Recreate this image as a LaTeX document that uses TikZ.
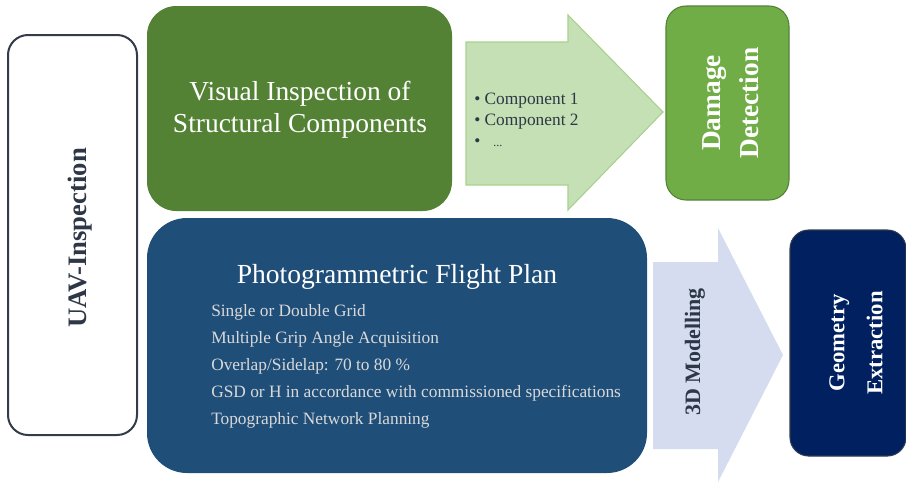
\documentclass[tikz,border=0pt]{standalone}
\usepackage{fontspec}
\setmainfont{Liberation Serif}
\definecolor{uavline}{RGB}{50,60,75}
\definecolor{gdark}{RGB}{84,130,53}
\definecolor{gmid}{RGB}{112,173,71}
\definecolor{glight}{RGB}{197,224,180}
\definecolor{glightline}{RGB}{169,209,142}
\definecolor{bdark}{RGB}{31,78,121}
\definecolor{navy}{RGB}{0,32,96}
\definecolor{blight}{RGB}{214,220,240}
\definecolor{txtdark}{RGB}{45,55,70}
\definecolor{txtlight}{RGB}{217,217,217}
\begin{document}
\begin{tikzpicture}[x=0.75pt,y=-0.75pt,
  boxtxt/.style={text=white,align=center,font=\fontsize{20.6}{24}\selectfont},
  vtxt/.style={rotate=90,align=center,font=\bfseries\fontsize{17}{22}\selectfont},
  listtxt/.style={anchor=west,text=txtlight,font=\fontsize{13}{15}\selectfont,inner sep=0pt}]
\useasboundingbox (0,0) rectangle (906,482);
% UAV box
\draw[uavline,line width=1.5pt,fill=white,rounded corners=15pt] (8,35) rectangle (137,435);
\node[vtxt,text=txtdark,font=\bfseries\fontsize{20}{24}\selectfont] (uav) at (80,238) {UAV-Inspection};
% green box
\fill[gdark,rounded corners=22pt] (147,6) rectangle (452,211);
\node[boxtxt] (vis) at (300,110) {Visual Inspection of\\Structural Components};
% light green arrow
\draw[glightline,fill=glight,line width=0.8pt] (466,42) -- (568,42) -- (568,15) -- (663,112) -- (568,210) -- (568,185) -- (466,185) -- cycle;
\node[anchor=west,text=txtdark,font=\fontsize{13}{15.75}\selectfont,align=left,inner sep=0pt] (comp) at (474,120) {\textbullet\ Component 1\\\textbullet\ Component 2\\\textbullet\ \ \ {\small ...}};
% damage detection
\draw[gdark,fill=gmid,line width=0.8pt,rounded corners=15pt] (666,6) rectangle (789,200);
\node[vtxt,text=white,font=\bfseries\fontsize{20.5}{28.5}\selectfont] (dmg) at (731,103) {Damage\\Detection};
% blue box
\fill[bdark,rounded corners=30pt] (147,218) rectangle (647,473);
\node[text=white,font=\fontsize{20.7}{24}\selectfont] (pfp) at (397,277) {Photogrammetric Flight Plan};
\node[listtxt] (l1) at (211,312) {Single or Double Grid};
\node[listtxt] (l2) at (211,339) {Multiple Grip Angle Acquisition};
\node[listtxt] (l3) at (211,366) {Overlap/Sidelap: 70 to 80 \%};
\node[listtxt] (l4) at (211,393) {GSD or H in accordance with commissioned specifications};
\node[listtxt] (l5) at (211,420) {Topographic Network Planning};
% light blue arrow
\fill[blight] (653,262) -- (718,262) -- (718,228) -- (783,355) -- (718,482) -- (718,449) -- (653,449) -- cycle;
\node[vtxt,text=txtdark,font=\bfseries\fontsize{16.5}{20}\selectfont] (mod) at (695,352) {3D Modelling};
% geometry extraction
\draw[uavline,fill=navy,line width=0.8pt,rounded corners=14pt] (790,230) rectangle (906,456);
\node[vtxt,text=white,font=\bfseries\fontsize{17}{28.5}\selectfont] (geo) at (856,343) {Geometry\\Extraction};
\end{tikzpicture}
\end{document}
